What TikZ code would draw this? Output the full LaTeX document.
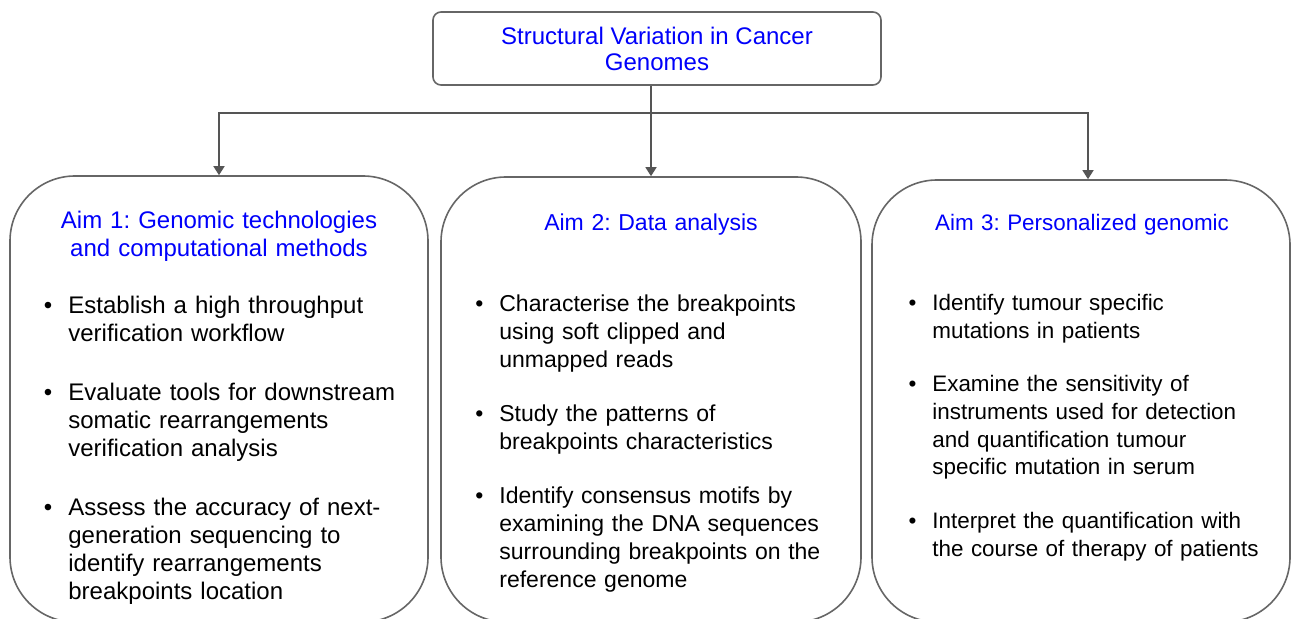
\documentclass[tikz,border=0pt]{standalone}
\usepackage{fontspec}
\setmainfont{Liberation Sans}
\usetikzlibrary{arrows.meta,positioning}
\frenchspacing
\definecolor{aimblue}{RGB}{0,0,250}
\definecolor{edgegray}{RGB}{102,102,102}
\definecolor{linkgray}{RGB}{85,85,85}
\tikzstyle{rootbox} = [rectangle, rounded corners=4pt, draw=edgegray, line width=0.8pt, minimum width=224pt, minimum height=36.5pt, align=center, text=aimblue, font=\fontsize{12}{13}\selectfont]
\tikzstyle{aimbox} = [rectangle, rounded corners=32.5pt, draw=edgegray, line width=0.8pt, minimum width=209pt, minimum height=223pt]
\tikzstyle{aimtitle} = [text width=200pt, align=center, anchor=base, inner sep=0pt, text=aimblue, font=\fontsize{12}{14}\selectfont]
\tikzstyle{aimlist} = [text width=180pt, align=left, anchor=base west, inner sep=0pt, font=\fontsize{12}{14}\selectfont]
\tikzstyle{link} = [line width=0.75pt, draw=linkgray, -{Triangle[length=4.5pt,width=5.5pt]}]
\newcommand{\aimpoint}{\leavevmode\llap{\textbullet\hspace{8pt}}}

\begin{document}
\begin{tikzpicture}[x=0.5pt, y=-0.5pt]
\useasboundingbox (0,0) rectangle (1291,619);

\node (root) [rootbox] at (657,48.5) {Structural Variation in Cancer\\Genomes};

\node (aimA) [aimbox] at (219,399) {};
\node (aimB) [aimbox, minimum width=210pt, minimum height=222.5pt] at (651,399.5) {};
\node (aimC) [aimbox, minimum height=221pt] at (1081,401) {};

\node (titleA) [aimtitle] at (219,229) {Aim 1: Genomic technologies\\and computational methods};
\node (titleB) [aimtitle, font=\fontsize{11.5}{14}\selectfont] at (651,231) {Aim 2: Data analysis};
\node (titleC) [aimtitle, font=\fontsize{11.2}{14}\selectfont] at (1082,231) {Aim 3: Personalized genomic};

\node (pointsA) [aimlist] at (68,314) {\aimpoint Establish a high throughput\\verification workflow\\[15.5pt]
  \aimpoint Evaluate tools for downstream\\somatic rearrangements\\verification analysis\\[15.5pt]
  \aimpoint Assess the accuracy of next-\\generation sequencing to\\identify rearrangements\\breakpoints location};
\node (pointsB) [aimlist, font=\fontsize{11.5}{14}\selectfont] at (499,312) {\aimpoint Characterise the breakpoints\\using soft clipped and\\unmapped reads\\[13pt]
  \aimpoint Study the patterns of\\breakpoints characteristics\\[13pt]
  \aimpoint Identify consensus motifs by\\examining the DNA sequences\\surrounding breakpoints on the\\reference genome};
\node (pointsC) [aimlist, font=\fontsize{11.2}{13.9}\selectfont] at (932,311) {\aimpoint Identify tumour specific\\mutations in patients\\[12.5pt]
  \aimpoint Examine the sensitivity of\\instruments used for detection\\and quantification tumour\\specific mutation in serum\\[13pt]
  \aimpoint Interpret the quantification with\\the course of therapy of patients};

% connectors
\coordinate (hub) at (651,113);
\draw[link] (root.south -| aimB.north) -- (aimB.north);
\draw[link] (hub) -| (aimA.north);
\draw[link] (hub) -| ([xshift=3.5pt]aimC.north);
\end{tikzpicture}
\end{document}
